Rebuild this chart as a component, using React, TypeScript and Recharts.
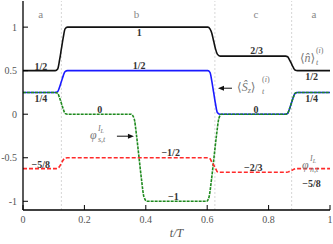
import React from 'react';
import { LineChart, Line, XAxis, YAxis, ReferenceLine, ReferenceDot } from 'recharts';

// [t/T, value]
const nSeries: [number, number][] = [
  [0, 0.5], [0.105, 0.5], [0.113, 0.52], [0.119, 0.62], [0.125, 0.75], [0.131, 0.88], [0.137, 0.98], [0.145, 1],
  [0.602, 1], [0.609, 0.98], [0.615, 0.93], [0.621, 0.84], [0.627, 0.75], [0.633, 0.69], [0.642, 0.667],
  [0.855, 0.667], [0.862, 0.66], [0.868, 0.625], [0.874, 0.583], [0.88, 0.54], [0.886, 0.507], [0.894, 0.5], [1, 0.5],
];
const szSeries: [number, number][] = [
  [0, 0.25], [0.105, 0.25], [0.113, 0.26], [0.119, 0.31], [0.125, 0.375], [0.131, 0.44], [0.137, 0.49], [0.145, 0.5],
  [0.602, 0.5], [0.609, 0.48], [0.615, 0.38], [0.621, 0.25], [0.627, 0.12], [0.633, 0.02], [0.641, 0],
  [0.855, 0], [0.862, 0.01], [0.868, 0.06], [0.874, 0.125], [0.88, 0.19], [0.886, 0.24], [0.894, 0.25], [1, 0.25],
];
const phiSSeries: [number, number][] = [
  [0, 0.25], [0.105, 0.25], [0.113, 0.24], [0.119, 0.19], [0.125, 0.125], [0.131, 0.06], [0.137, 0.01], [0.145, 0],
  [0.352, 0], [0.362, -0.05], [0.37, -0.25], [0.378, -0.5], [0.386, -0.75], [0.394, -0.95], [0.404, -1],
  [0.598, -1], [0.606, -0.95], [0.614, -0.75], [0.622, -0.5], [0.63, -0.25], [0.638, -0.05], [0.646, 0],
  [0.855, 0], [0.862, 0.01], [0.868, 0.06], [0.874, 0.125], [0.88, 0.19], [0.886, 0.24], [0.894, 0.25], [1, 0.25],
];
const phiNSeries: [number, number][] = [
  [0, -0.625], [0.105, -0.625], [0.113, -0.62], [0.119, -0.6], [0.125, -0.5625], [0.131, -0.525], [0.137, -0.505], [0.145, -0.5],
  [0.602, -0.5], [0.609, -0.51], [0.615, -0.55], [0.621, -0.583], [0.627, -0.62], [0.633, -0.66], [0.641, -0.667],
  [0.86, -0.667], [0.866, -0.66], [0.872, -0.65], [0.878, -0.64], [0.884, -0.63], [0.892, -0.625], [1, -0.625],
];

const xTicks = [0, 0.2, 0.4, 0.6, 0.8, 1];
const yTicks = [-1, -0.5, 0, 0.5, 1];
const regionEdges = [0.125, 0.625, 0.875];

const regionLabels = [
  { t: 0.058, v: 1.149, text: 'a' },
  { t: 0.37, v: 1.149, text: 'b' },
  { t: 0.759, v: 1.149, text: 'c' },
  { t: 0.948, v: 1.149, text: 'a' },
];

const valueLabels = [
  { t: 0.058, v: 0.55, text: '1/2' },
  { t: 0.058, v: 0.18, text: '1/4' },
  { t: 0.379, v: 0.935, text: '1' },
  { t: 0.378, v: 0.563, text: '1/2' },
  { t: 0.25, v: 0.054, text: '0' },
  { t: 0.759, v: 0.054, text: '0' },
  { t: 0.761, v: 0.727, text: '2/3' },
  { t: 0.94, v: 0.437, text: '1/2' },
  { t: 0.94, v: 0.18, text: '1/4' },
  { t: 0.058, v: -0.575, text: '\u22125/8' },
  { t: 0.481, v: -0.445, text: '\u22121/2' },
  { t: 0.49, v: -0.95, text: '\u22121' },
  { t: 0.75, v: -0.613, text: '\u22122/3' },
  { t: 0.94, v: -0.797, text: '\u22125/8' },
];

const toRows = (s: [number, number][]) => s.map(([t, v]) => ({ t, v }));

const FONT = '"Liberation Serif", "DejaVu Serif", serif';
const MATH = '#777';

const Arrow = ({ x1, x2, y }: { x1: number; x2: number; y: number }) => {
  const dir = x2 > x1 ? 1 : -1;
  return (
    <g>
      <line x1={x1} y1={y} x2={x2 - dir * 4} y2={y} stroke="#111" strokeWidth={1} />
      <path d={`M${x2},${y} L${x2 - dir * 6},${y - 2.5} L${x2 - dir * 6},${y + 2.5} Z`} fill="#111" />
    </g>
  );
};

const NLabel = ({ cx, cy }: any) => (
  <g fontFamily={FONT} fill={MATH}>
    <text x={cx} y={cy} fontSize={12}>
      ⟨<tspan fontStyle="italic">n̂</tspan>⟩
    </text>
    <text x={cx + 16} y={cy - 9} fontSize={8}>(<tspan fontStyle="italic">i</tspan>)</text>
    <text x={cx + 16} y={cy + 3} fontSize={8} fontStyle="italic">t</text>
  </g>
);

const SzLabel = ({ cx, cy }: any) => (
  <g fontFamily={FONT} fill={MATH}>
    <Arrow x1={cx - 5} x2={cx - 19} y={cy - 3} />
    <text x={cx} y={cy} fontSize={12}>
      ⟨<tspan fontStyle="italic">Ŝ</tspan><tspan fontSize={8} fontStyle="italic" dy={2}>z</tspan><tspan dy={-2}>⟩</tspan>
    </text>
    <text x={cx + 25} y={cy - 9} fontSize={8}>(<tspan fontStyle="italic">i</tspan>)</text>
    <text x={cx + 25} y={cy + 3} fontSize={8} fontStyle="italic">t</text>
  </g>
);

const PhiSLabel = ({ cx, cy }: any) => (
  <g fontFamily={FONT} fill={MATH}>
    <text x={cx} y={cy} fontSize={12} fontStyle="italic">φ</text>
    <text x={cx + 8} y={cy - 8} fontSize={8} fontStyle="italic">I<tspan fontSize={6} dy={2}>L</tspan></text>
    <text x={cx + 8} y={cy + 3} fontSize={8} fontStyle="italic">s,t</text>
    <Arrow x1={cx + 27} x2={cx + 44} y={cy - 3} />
  </g>
);

const PhiNLabel = ({ cx, cy }: any) => (
  <g fontFamily={FONT} fill={MATH}>
    <text x={cx} y={cy} fontSize={12} fontStyle="italic">φ</text>
    <text x={cx + 8} y={cy - 8} fontSize={8} fontStyle="italic">I<tspan fontSize={6} dy={2}>L</tspan></text>
    <text x={cx + 8} y={cy + 3} fontSize={8} fontStyle="italic">n,t</text>
  </g>
);

const mathLabels = [
  { t: 0.902, v: 0.598, shape: NLabel },
  { t: 0.697, v: 0.264, shape: SzLabel },
  { t: 0.218, v: -0.287, shape: PhiSLabel },
  { t: 0.909, v: -0.632, shape: PhiNLabel },
];

export default function App() {
  const tickStyle = { fontSize: 10, fill: '#555', fontFamily: FONT };
  return (
    <div style={{ position: 'absolute', left: 0, top: 0, width: 333, height: 244, background: '#fff' }}>
      <LineChart width={333} height={244} margin={{ top: 1, right: 3, left: 0, bottom: 4 }}>
        <XAxis
          xAxisId="b"
          dataKey="t"
          type="number"
          domain={[0, 1]}
          ticks={xTicks}
          tickSize={-5}
          tickMargin={11}
          height={30}
          stroke="#000"
          tick={tickStyle}
          tickFormatter={(v: number) => String(v)}
          axisLine={{ stroke: '#000', strokeWidth: 1.3 }}
          tickLine={{ stroke: '#000' }}
          allowDataOverflow
          label={{ value: 't/T', position: 'insideBottom', offset: 3, style: { fontSize: 12, fontStyle: 'italic', fill: '#555', fontFamily: FONT } }}
        />
        <XAxis
          xAxisId="t"
          orientation="top"
          dataKey="t"
          type="number"
          domain={[0, 1]}
          ticks={xTicks}
          tickSize={-5}
          height={0}
          tick={false}
          axisLine={{ stroke: '#000', strokeWidth: 1.3 }}
          tickLine={{ stroke: '#000' }}
          allowDataOverflow
        />
        <YAxis
          yAxisId="l"
          type="number"
          domain={[-1.1, 1.3]}
          ticks={yTicks}
          width={23}
          tickSize={-5}
          tickMargin={11}
          tick={tickStyle}
          axisLine={{ stroke: '#000', strokeWidth: 1.3 }}
          tickLine={{ stroke: '#000' }}
          allowDataOverflow
        />
        <YAxis
          yAxisId="r"
          orientation="right"
          type="number"
          domain={[-1.1, 1.3]}
          ticks={yTicks}
          width={0}
          tickSize={-5}
          tick={false}
          axisLine={{ stroke: '#000', strokeWidth: 1.3 }}
          tickLine={{ stroke: '#000' }}
          allowDataOverflow
        />
        {regionEdges.map((x) => (
          <ReferenceLine key={x} x={x} xAxisId="b" yAxisId="l" stroke="#ccc" strokeDasharray="2 2" strokeWidth={0.8} />
        ))}
        <Line xAxisId="b" yAxisId="l" data={toRows(nSeries)} dataKey="v" type="monotone" stroke="#111" strokeWidth={1.6} dot={false} isAnimationActive={false} />
        <Line xAxisId="b" yAxisId="l" data={toRows(szSeries)} dataKey="v" type="monotone" stroke="#1a1aff" strokeWidth={1.6} dot={false} isAnimationActive={false} />
        <Line xAxisId="b" yAxisId="l" data={toRows(phiSSeries)} dataKey="v" type="monotone" stroke="#1e8a1e" strokeWidth={1.6} strokeDasharray="3 1" dot={false} isAnimationActive={false} />
        <Line xAxisId="b" yAxisId="l" data={toRows(phiNSeries)} dataKey="v" type="monotone" stroke="#ff2a2a" strokeWidth={1.6} strokeDasharray="4 2" dot={false} isAnimationActive={false} />
        {regionLabels.map((l, i) => (
          <ReferenceDot key={'r' + i} xAxisId="b" yAxisId="l" x={l.t} y={l.v} r={0} ifOverflow="visible"
            shape={(p: any) => (
              <text x={p.cx} y={p.cy} textAnchor="middle" dominantBaseline="central" fontSize={11} fill="#888" fontFamily={FONT}>{l.text}</text>
            )}
          />
        ))}
        {valueLabels.map((l, i) => (
          <ReferenceDot key={'v' + i} xAxisId="b" yAxisId="l" x={l.t} y={l.v} r={0} ifOverflow="visible"
            shape={(p: any) => (
              <text x={p.cx} y={p.cy} textAnchor="middle" dominantBaseline="central" fontSize={10} fontWeight="bold" fill="#333" fontFamily={FONT}>{l.text}</text>
            )}
          />
        ))}
        {mathLabels.map((l, i) => (
          <ReferenceDot key={'m' + i} xAxisId="b" yAxisId="l" x={l.t} y={l.v} r={0} ifOverflow="visible" shape={l.shape} />
        ))}
      </LineChart>
    </div>
  );
}
